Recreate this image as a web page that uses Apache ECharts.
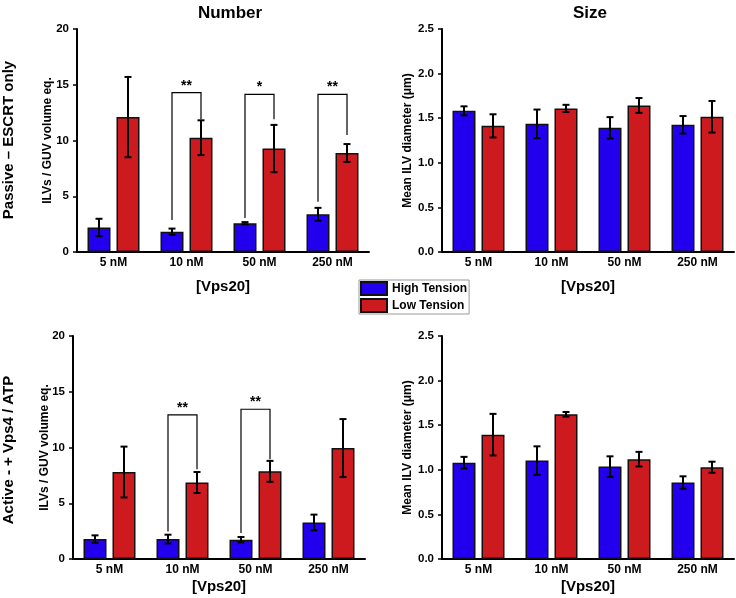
<!DOCTYPE html>
<html>
<head>
<meta charset="utf-8">
<script src="https://cdn.jsdelivr.net/npm/echarts@6/dist/echarts.min.js"></script>
<style>html,body{margin:0;padding:0;background:#fff}#c{width:736px;height:598px}</style>
</head>
<body>
<div id="c"></div>
<script>
// ---- data ----
const categories = ['5 nM', '10 nM', '50 nM', '250 nM'];
const seriesNames = ['High Tension', 'Low Tension'];
const numberTicks = [0, 5, 10, 15, 20];
const sizeTicks = [0.0, 0.5, 1.0, 1.5, 2.0, 2.5];

const passiveNumHigh = [2.2, 1.82, 2.58, 3.38];
const passiveNumHighErr = [0.78, 0.28, 0.1, 0.58];
const passiveNumLow = [12.1, 10.25, 9.28, 8.88];
const passiveNumLowErr = [3.6, 1.56, 2.12, 0.8];

const passiveSizeHigh = [1.583, 1.437, 1.392, 1.426];
const passiveSizeHighErr = [0.05, 0.16, 0.12, 0.098];
const passiveSizeLow = [1.414, 1.61, 1.643, 1.516];
const passiveSizeLowErr = [0.13, 0.04, 0.083, 0.177];

const activeNumHigh = [1.79, 1.79, 1.73, 3.28];
const activeNumHighErr = [0.33, 0.39, 0.24, 0.7];
const activeNumLow = [7.8, 6.86, 7.86, 9.95];
const activeNumLowErr = [2.28, 0.94, 0.94, 2.6];

const activeSizeHigh = [1.08, 1.103, 1.036, 0.857];
const activeSizeHighErr = [0.065, 0.16, 0.115, 0.07];
const activeSizeLow = [1.394, 1.622, 1.119, 1.029];
const activeSizeLowErr = [0.233, 0.026, 0.082, 0.062];

// significance brackets: category index, bracket top, left leg bottom, right leg bottom, label
const passiveBrackets = [
  [1, 14.29, 2.87, 11.9, '**'],
  [2, 14.14, 3.05, 11.9, '*'],
  [3, 14.14, 4.5, 10.5, '**']
];
const activeBrackets = [
  [1, 12.92, 2.47, 8.06, '**'],
  [2, 13.43, 2.33, 8.95, '**']
];

// ---- style ----
const FONT = 'Liberation Sans, Arial, sans-serif';
const BLUE = '#2200ee';
const RED = '#cc1a1f';
const BAR_W = 23;
const GAP_PX = 6;
const OFFSET = (BAR_W + GAP_PX) / 2;

const grids = [
  { left: 77, top: 29, width: 292, height: 223 },
  { left: 442, top: 29, width: 292, height: 223 },
  { left: 73, top: 336, width: 292, height: 223 },
  { left: 442, top: 336, width: 292, height: 223 }
];

function xAxis(gi, nameGap) {
  return {
    type: 'category', gridIndex: gi, data: categories,
    axisLine: { lineStyle: { color: '#000', width: 2 } },
    axisTick: { show: false },
    axisLabel: { color: '#000', fontFamily: FONT, fontWeight: 'bold', fontSize: 12, margin: 5 },
    name: '[Vps20]', nameLocation: 'middle', nameGap: nameGap, nameMoveOverlap: false,
    nameTextStyle: { color: '#000', fontFamily: FONT, fontWeight: 'bold', fontSize: 15 }
  };
}
function yAxis(gi, ticks, name, nameGap, fmt) {
  return {
    type: 'value', gridIndex: gi, min: ticks[0], max: ticks[ticks.length - 1],
    interval: ticks[1] - ticks[0],
    axisLine: { show: true, lineStyle: { color: '#000', width: 2 } },
    axisTick: { show: true, length: 4, lineStyle: { color: '#000', width: 1.5 } },
    splitLine: { show: false },
    axisLabel: { color: '#000', fontFamily: FONT, fontWeight: 'bold', fontSize: 11.5, margin: 8,
      formatter: fmt },
    name: name, nameLocation: 'middle', nameGap: nameGap, nameMoveOverlap: false,
    nameTextStyle: { color: '#000', fontFamily: FONT, fontWeight: 'bold', fontSize: 12 }
  };
}

function barSeries(gi, name, data, color) {
  return {
    type: 'bar', name: name, xAxisIndex: gi, yAxisIndex: gi, data: data,
    barWidth: BAR_W, barGap: (GAP_PX / BAR_W * 100) + '%',
    itemStyle: { color: color, borderColor: '#111', borderWidth: 1.5 },
    emphasis: { disabled: true }, z: 2
  };
}

function errSeries(gi, values, errs, sign) {
  return {
    type: 'custom', xAxisIndex: gi, yAxisIndex: gi, z: 5, silent: true,
    data: values.map((v, i) => [i, v, errs[i]]),
    renderItem: function (params, api) {
      const c = api.value(0), v = api.value(1), e = api.value(2);
      const top = api.coord([c, v + e]);
      const bot = api.coord([c, v - e]);
      const x = top[0] + sign * OFFSET;
      const cap = 3.5;
      const st = { stroke: '#000', lineWidth: 2 };
      return {
        type: 'group', children: [
          { type: 'line', shape: { x1: x, y1: top[1], x2: x, y2: bot[1] }, style: st },
          { type: 'line', shape: { x1: x - cap, y1: top[1], x2: x + cap, y2: top[1] }, style: st },
          { type: 'line', shape: { x1: x - cap, y1: bot[1], x2: x + cap, y2: bot[1] }, style: st }
        ]
      };
    }
  };
}

function bracketSeries(gi, brackets) {
  return {
    type: 'custom', xAxisIndex: gi, yAxisIndex: gi, z: 6, silent: true,
    data: brackets.map(b => b.slice(0, 4)),
    renderItem: function (params, api) {
      const c = api.value(0);
      const t = api.coord([c, api.value(1)]);
      const l = api.coord([c, api.value(2)]);
      const r = api.coord([c, api.value(3)]);
      const xl = t[0] - OFFSET, xr = t[0] + OFFSET;
      return {
        type: 'group', children: [
          { type: 'polyline', shape: { points: [[xl, l[1]], [xl, t[1]], [xr, t[1]], [xr, r[1]]] },
            style: { stroke: '#000', lineWidth: 1.2, fill: null } },
          { type: 'text', x: t[0], y: t[1],
            style: { text: brackets[params.dataIndex][4], font: 'bold 14px ' + FONT, fill: '#000',
              align: 'center', verticalAlign: 'bottom' } }
        ]
      };
    }
  };
}

const fmt0 = v => String(v);
const fmt1 = v => v.toFixed(1);

const option = {
  animation: false,
  backgroundColor: '#fff',
  grid: grids,
  xAxis: [xAxis(0, 27), xAxis(1, 27), xAxis(2, 20), xAxis(3, 20)],
  yAxis: [
    yAxis(0, numberTicks, 'ILVs / GUV volume eq.', 23, fmt0),
    yAxis(1, sizeTicks, 'Mean ILV diameter (μm)', 28, fmt1),
    yAxis(2, numberTicks, 'ILVs / GUV volume eq.', 22.5, fmt0),
    yAxis(3, sizeTicks, 'Mean ILV diameter (μm)', 28, fmt1)
  ],
  legend: {
    data: seriesNames, orient: 'vertical', left: 359, top: 280,
    icon: 'rect', itemWidth: 26, itemHeight: 13, itemGap: 2,
    padding: [1, 2, 1, 1], backgroundColor: '#fff', borderColor: '#999', borderWidth: 1,
    borderRadius: 0,
    textStyle: { color: '#000', fontFamily: FONT, fontWeight: 'bold', fontSize: 12 },
    selectedMode: false
  },
  graphic: [
    { type: 'text', x: 230, y: 13, style: { text: 'Number', font: 'bold 17px ' + FONT, fill: '#000', align: 'center', verticalAlign: 'middle' } },
    { type: 'text', x: 590, y: 13, style: { text: 'Size', font: 'bold 17px ' + FONT, fill: '#000', align: 'center', verticalAlign: 'middle' } },
    { type: 'text', x: 9, y: 140, rotation: Math.PI / 2, style: { text: 'Passive – ESCRT only', font: 'bold 15px ' + FONT, fill: '#000', align: 'center', verticalAlign: 'middle' } },
    { type: 'text', x: 9, y: 450, rotation: Math.PI / 2, style: { text: 'Active - + Vps4 / ATP', font: 'bold 15px ' + FONT, fill: '#000', align: 'center', verticalAlign: 'middle' } }
  ],
  series: [
    barSeries(0, seriesNames[0], passiveNumHigh, BLUE),
    barSeries(0, seriesNames[1], passiveNumLow, RED),
    errSeries(0, passiveNumHigh, passiveNumHighErr, -1),
    errSeries(0, passiveNumLow, passiveNumLowErr, 1),
    bracketSeries(0, passiveBrackets),

    barSeries(1, seriesNames[0], passiveSizeHigh, BLUE),
    barSeries(1, seriesNames[1], passiveSizeLow, RED),
    errSeries(1, passiveSizeHigh, passiveSizeHighErr, -1),
    errSeries(1, passiveSizeLow, passiveSizeLowErr, 1),

    barSeries(2, seriesNames[0], activeNumHigh, BLUE),
    barSeries(2, seriesNames[1], activeNumLow, RED),
    errSeries(2, activeNumHigh, activeNumHighErr, -1),
    errSeries(2, activeNumLow, activeNumLowErr, 1),
    bracketSeries(2, activeBrackets),

    barSeries(3, seriesNames[0], activeSizeHigh, BLUE),
    barSeries(3, seriesNames[1], activeSizeLow, RED),
    errSeries(3, activeSizeHigh, activeSizeHighErr, -1),
    errSeries(3, activeSizeLow, activeSizeLowErr, 1)
  ]
};

const chart = echarts.init(document.getElementById('c'), null, { renderer: 'canvas' });
chart.setOption(option);
</script>
</body>
</html>
